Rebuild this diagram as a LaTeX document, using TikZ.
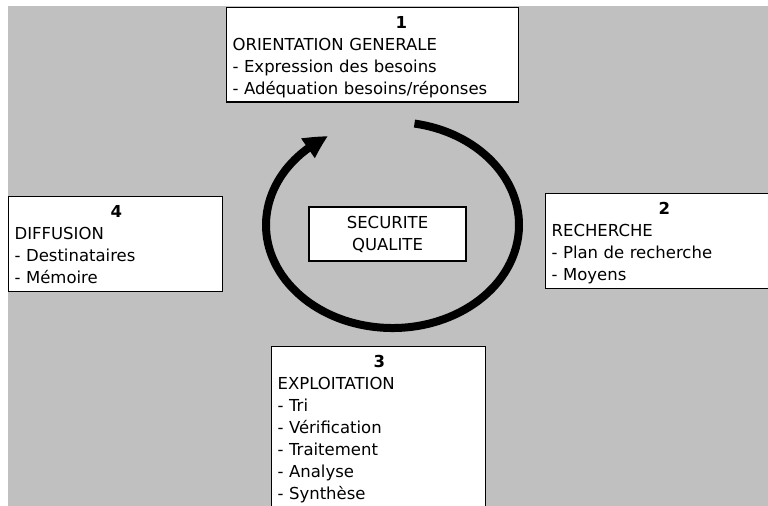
\documentclass[tikz,border=0pt]{standalone}
\usepackage{fontspec}
\setmainfont{DejaVu Sans}
\definecolor{fondgris}{RGB}{192,192,192}
\usetikzlibrary{arrows.meta,bending,positioning}
\newcommand{\numero}[2]{\noindent\rule{0pt}{21bp}\hspace*{#1bp}\textbf{#2}}
\newcommand{\finbloc}{\rule[-7.5bp]{0pt}{0pt}}

\begin{document}
\begin{tikzpicture}[x=1bp,y=-1bp,
    every node/.style={font=\fontsize{16.5bp}{22bp}\selectfont},
    etape/.style={draw,line width=1.2bp,fill=white,anchor=north west,align=left,inner xsep=6bp,inner ysep=0pt},
    centre/.style={draw,line width=1.2bp,fill=white,align=center,minimum width=157bp,minimum height=54bp,inner sep=0pt},
    cycle/.style={line width=8bp,-{Triangle[length=24bp,width=22bp,bend]}}
    ]
    \useasboundingbox (0,0) rectangle (768,506);
    \clip (0,0) rectangle (768,506);

    % the background
    \fill[fondgris] (8,6) rectangle (768,506);

    % the four steps
    \node[etape,text width=280bp] (e1) at (226,7) {\numero{163}{1}\\ORIENTATION GENERALE\\- Expression des besoins\\- Adéquation besoins/réponses\finbloc};
    \node[etape,text width=223bp] (e2) at (545,193) {\numero{107}{2}\\RECHERCHE\\- Plan de recherche\\- Moyens\finbloc};
    \node[etape,text width=202bp] (e3) at (271,346) {\numero{96}{3}\\EXPLOITATION\\- Tri\\- Vérification\\- Traitement\\- Analyse\\- Synthèse\rule[-14bp]{0pt}{0pt}};
    \node[etape,text width=202bp] (e4) at (8,196) {\numero{96}{4}\\DIFFUSION\\- Destinataires\\- Mémoire\finbloc};

    % the centre
    \node[centre] (sq) at (387.5,234) {SECURITE\\QUALITE};

    % the cycle
    \coordinate (ctr) at (392.5,225);
    \draw[cycle] (ctr) ++(-80:126.5 and 103) arc[start angle=-80,end angle=239.5,x radius=126.5,y radius=103];

\end{tikzpicture}
\end{document}
